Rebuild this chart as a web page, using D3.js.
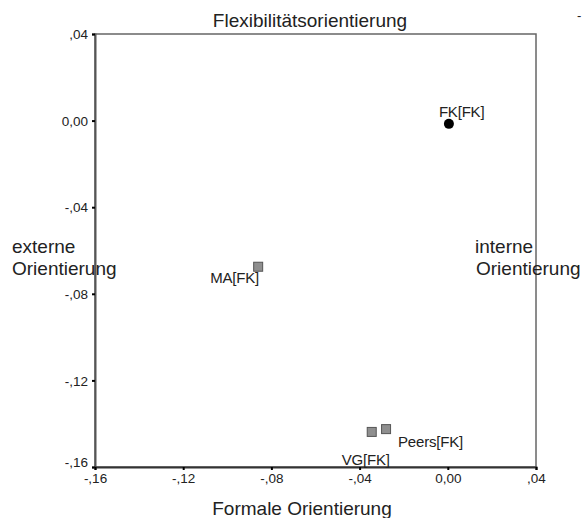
<!DOCTYPE html>
<html><head><meta charset="utf-8">
<script src="https://cdn.jsdelivr.net/npm/d3@7/dist/d3.min.js"></script>
<style>
body{margin:0;background:#fff;}
text{font-family:"Liberation Sans",Arial,sans-serif;fill:#222;}
</style></head>
<body><svg id="c" width="586" height="518"></svg>
<script>
const pointNames = ["FK[FK]","MA[FK]","VG[FK]","Peers[FK]"];
const xValues = [0.0005,-0.086,-0.0345,-0.028];
const yValues = [-0.0015,-0.0675,-0.1438,-0.1425];
const pointShapes = ["circle","square","square","square"];
const tickValues = [-0.16,-0.12,-0.08,-0.04,0,0.04];
const tickLabels = ["-,16","-,12","-,08","-,04","0,00",",04"];

const svg = d3.select("#c");
const x = d3.scaleLinear().domain([-0.16,0.04]).range([95,536]);
const y = d3.scaleLinear().domain([-0.16,0.04]).range([467,34]);
const fmt = v => tickLabels[tickValues.findIndex(t=>Math.abs(t-v)<1e-9)];

// frame
svg.append("rect").attr("x",x(-0.16)).attr("y",y(0.04))
  .attr("width",x(0.04)-x(-0.16)).attr("height",y(-0.16)-y(0.04))
  .attr("fill","none").attr("stroke","#666").attr("stroke-width",1.5);

const ya = svg.append("g").attr("transform",`translate(${x(-0.16)},0)`)
  .call(d3.axisLeft(y).tickValues(tickValues).tickFormat(fmt).tickSize(3).tickPadding(4));
ya.select(".domain").attr("stroke","#555").attr("stroke-width",2);
ya.selectAll(".tick line").attr("stroke","#000").attr("stroke-width",2);
ya.selectAll(".tick text").attr("font-size",13.5).attr("font-family","Liberation Sans, Arial")
  .attr("fill","#333").attr("dy",d=>d===-0.16?"-0.05em":"0.35em");

const xa = svg.append("g").attr("transform",`translate(0,${y(-0.16)})`)
  .call(d3.axisBottom(x).tickValues(tickValues).tickFormat(fmt).tickSize(3).tickPadding(3));
xa.select(".domain").attr("stroke","#333").attr("stroke-width",2);
xa.selectAll(".tick line").attr("stroke","#000").attr("stroke-width",2);
xa.selectAll(".tick text").attr("font-size",13.5).attr("font-family","Liberation Sans, Arial").attr("fill","#333");

// points
const data = pointNames.map((n,i)=>({n,x:xValues[i],y:yValues[i],s:pointShapes[i]}));
data.filter(d=>d.s==="square").forEach(d=>{
  svg.append("rect").attr("x",x(d.x)-4.5).attr("y",y(d.y)-4.5).attr("width",9).attr("height",9)
    .attr("fill","#8f8f8f").attr("stroke","#555").attr("stroke-width",1);
});
data.filter(d=>d.s==="circle").forEach(d=>{
  svg.append("circle").attr("cx",x(d.x)).attr("cy",y(d.y)).attr("r",5).attr("fill","#000");
});

// point labels (offsets relative to points)
const labelOff = {"FK[FK]":[-10,-7],"MA[FK]":[-48,16],"VG[FK]":[-30,33],"Peers[FK]":[12,18]};
data.forEach(d=>{
  const o = labelOff[d.n];
  svg.append("text").attr("x",x(d.x)+o[0]).attr("y",y(d.y)+o[1])
    .attr("font-size",15).attr("letter-spacing","-0.2px").text(d.n);
});

// axis titles
svg.append("text").attr("x",310).attr("y",27).attr("text-anchor","middle").attr("font-size",19).text("Flexibilitätsorientierung");
svg.append("text").attr("x",302).attr("y",515).attr("text-anchor","middle").attr("font-size",19).text("Formale Orientierung");
svg.append("text").attr("x",12).attr("y",253).attr("font-size",19).text("externe");
svg.append("text").attr("x",12).attr("y",275).attr("font-size",19).text("Orientierung");
svg.append("text").attr("x",475).attr("y",253).attr("font-size",19).text("interne");
svg.append("text").attr("x",476).attr("y",275).attr("font-size",19).text("Orientierung");
svg.append("text").attr("x",577).attr("y",20).attr("font-size",13).text("-");
</script></body></html>
